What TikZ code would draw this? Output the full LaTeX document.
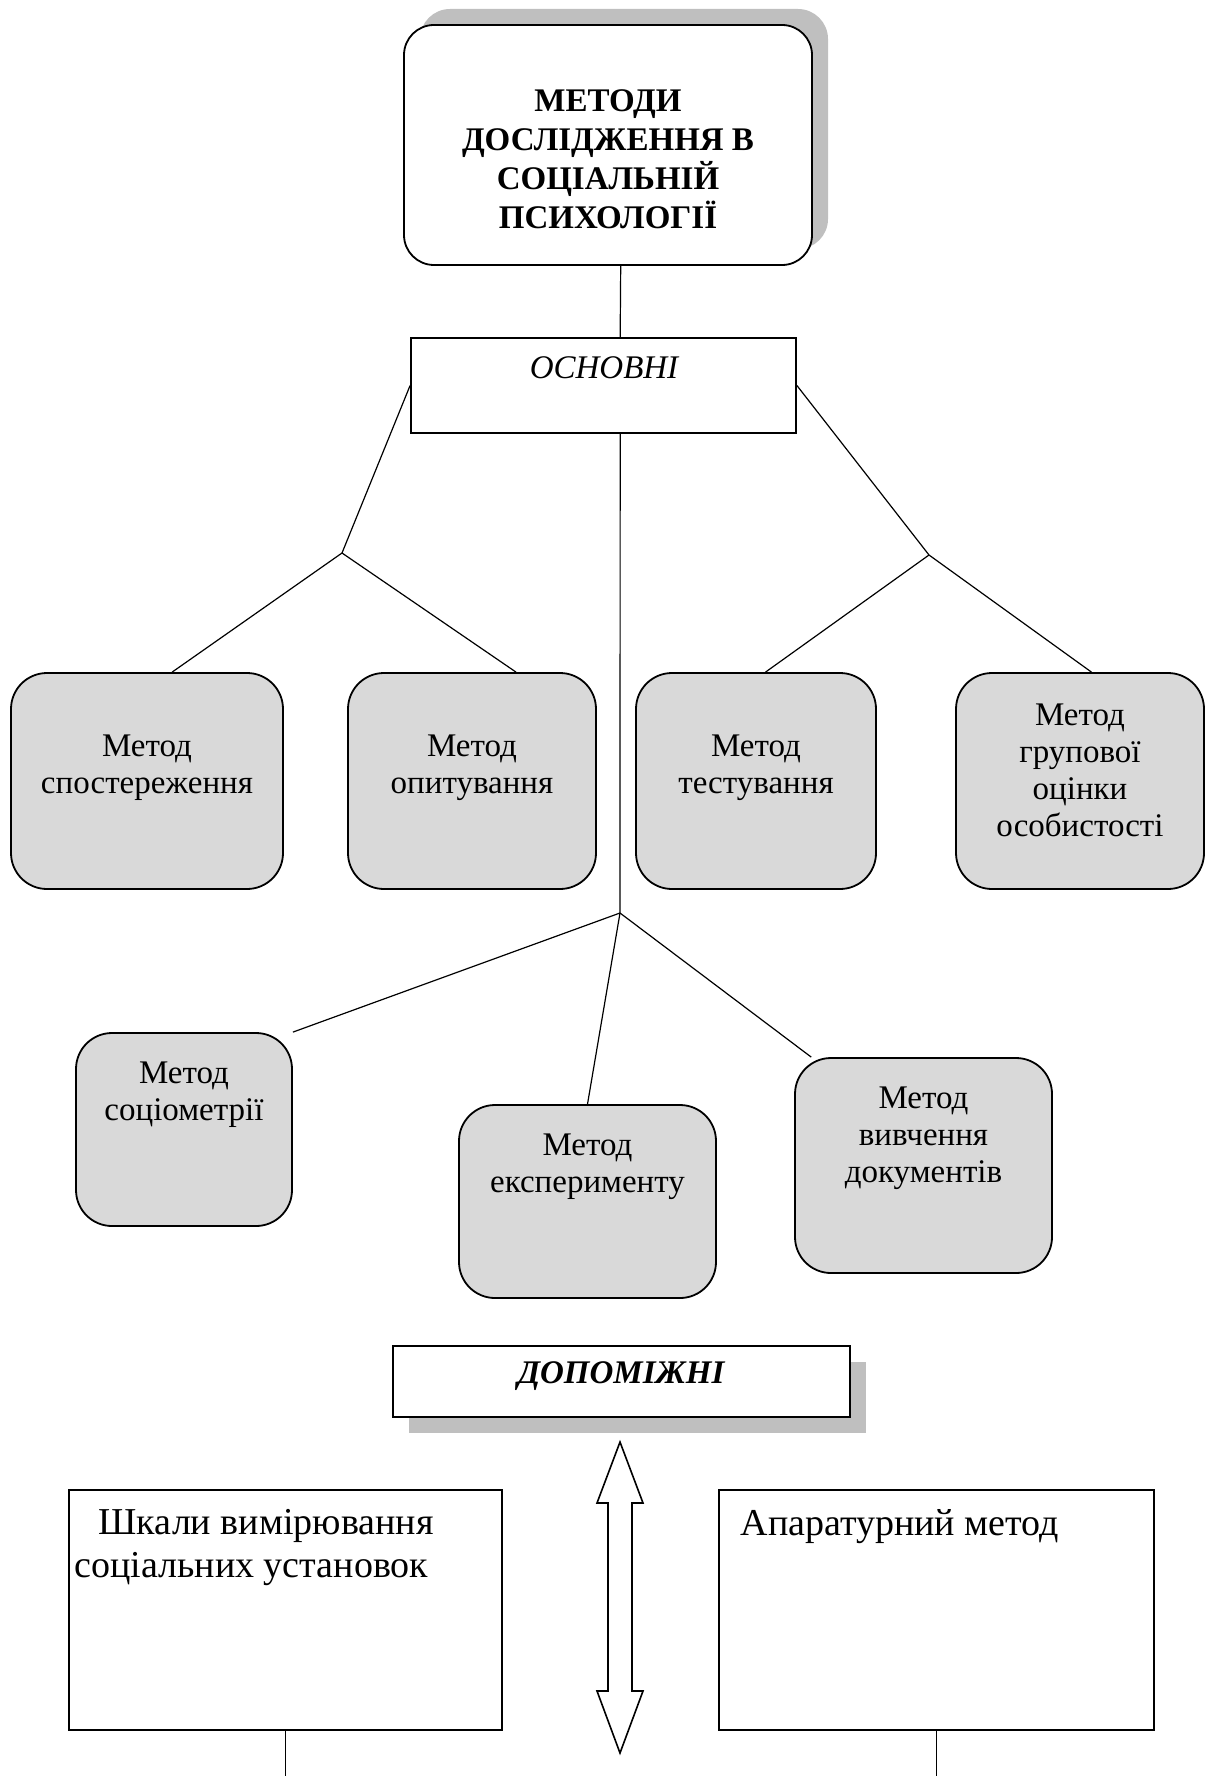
\documentclass[tikz,border=0pt]{standalone}
\usepackage{fontspec}
\setmainfont{Liberation Serif}
\usetikzlibrary{shadows}
\definecolor{boxgray}{HTML}{D9D9D9}
\definecolor{shadowgray}{HTML}{BFBFBF}

\begin{document}
\begin{tikzpicture}
  [x=0.5pt,y=-0.5pt,line width=0.6pt,
   box/.style={draw,line width=0.9pt,inner sep=0pt},
   gbox/.style={box,fill=boxgray,rounded corners=18pt},
   txt/.style={inner sep=0pt,align=center,font=\fontsize{16.5}{18.5}\selectfont},
   big/.style={inner sep=0pt,align=left,font=\fontsize{19}{21.5}\selectfont}]
  \useasboundingbox (0,0) rectangle (1219,1776);

  \node (top)[box,fill=white,rounded corners=15pt,minimum width=204pt,minimum height=120pt,
    drop shadow={shadow xshift=8pt,shadow yshift=8pt,fill=shadowgray,opacity=1}] at (608,145) {};
  \node (osn)[box,minimum width=192.5pt,minimum height=47.5pt] at (603.5,385.5) {};
  \node (m1)[gbox,minimum width=136pt,minimum height=108pt] at (147,781) {};
  \node (m2)[gbox,minimum width=124pt,minimum height=108pt] at (472,781) {};
  \node (m3)[gbox,minimum width=120pt,minimum height=108pt] at (756,781) {};
  \node (m4)[gbox,minimum width=124pt,minimum height=108pt] at (1080,781) {};
  \node (m5)[gbox,minimum width=108pt,minimum height=96.5pt] at (184,1129.5) {};
  \node (m6)[gbox,minimum width=128.5pt,minimum height=96.5pt] at (587.5,1201.5) {};
  \node (m7)[gbox,minimum width=128.5pt,minimum height=107.5pt] at (923.5,1165.5) {};
  \node (dop)[box,fill=white,minimum width=228.5pt,minimum height=35.5pt,
    drop shadow={shadow xshift=8pt,shadow yshift=-8pt,fill=shadowgray,opacity=1}] at (621.5,1381.5) {};
  \node (s1)[box,minimum width=216.5pt,minimum height=120pt] at (285.5,1610) {};
  \node (s2)[box,minimum width=217.5pt,minimum height=120pt] at (936.5,1610) {};

  \node (t0)[txt,font=\bfseries\fontsize{16.5}{19.5}\selectfont] at (608,159) {МЕТОДИ\\ДОСЛІДЖЕННЯ В\\СОЦІАЛЬНІЙ\\ПСИХОЛОГІЇ};
  \node (tosn)[txt,font=\itshape\fontsize{16.5}{18.5}\selectfont] at (604,368) {ОСНОВНІ};
  \node (t1)[txt] at (147,768) {Метод\\спостереження};
  \node (t2)[txt] at (472,768) {Метод\\опитування};
  \node (t3)[txt] at (756,768) {Метод\\тестування};
  \node (t4)[txt] at (1080,770) {Метод\\групової\\оцінки\\особистості};
  \node (t5)[txt,anchor=north] at (184,1061) {Метод\\соціометрії};
  \node (t6)[txt,anchor=north] at (587.5,1133) {Метод\\експерименту};
  \node (t7)[txt,anchor=north] at (923.5,1086) {Метод\\вивчення\\документів};
  \node (tdop)[txt,font=\bfseries\itshape\fontsize{16.5}{18.5}\selectfont] at (621,1376) {ДОПОМІЖНІ};
  \node (t8)[big,anchor=north west] at (74,1509) {\hspace*{12pt}Шкали вимірювання\\соціальних установок};
  \node (t9)[big,anchor=north west] at (740,1509) {Апаратурний метод};

  \coordinate (jl) at (342,553);
  \coordinate (jr) at (929,555);
  \coordinate (jc) at (620,913);
  \coordinate (b1) at (285.5,1776);
  \coordinate (b2) at (936.5,1776);

  \draw (top.-84) -- (osn.71);
  \foreach \from/\to in {osn.-71/jc,osn.west/jl,osn.east/jr,jl/m1.77,jl/m2.68,jr/m3.85,jr/m4.84,jc/m5.north east,jc/m6.north,jc/m7.136,s1.south/b1,s2.south/b2}
    \draw (\from) -- (\to);

  % double arrow
  \draw[line width=0.8pt,fill=white] (620,1442) -- (643,1503) -- (632,1503) -- (632,1691) -- (643,1691)
    -- (620,1753) -- (597,1691) -- (608,1691) -- (608,1503) -- (597,1503) -- cycle;

\end{tikzpicture}
\end{document}
